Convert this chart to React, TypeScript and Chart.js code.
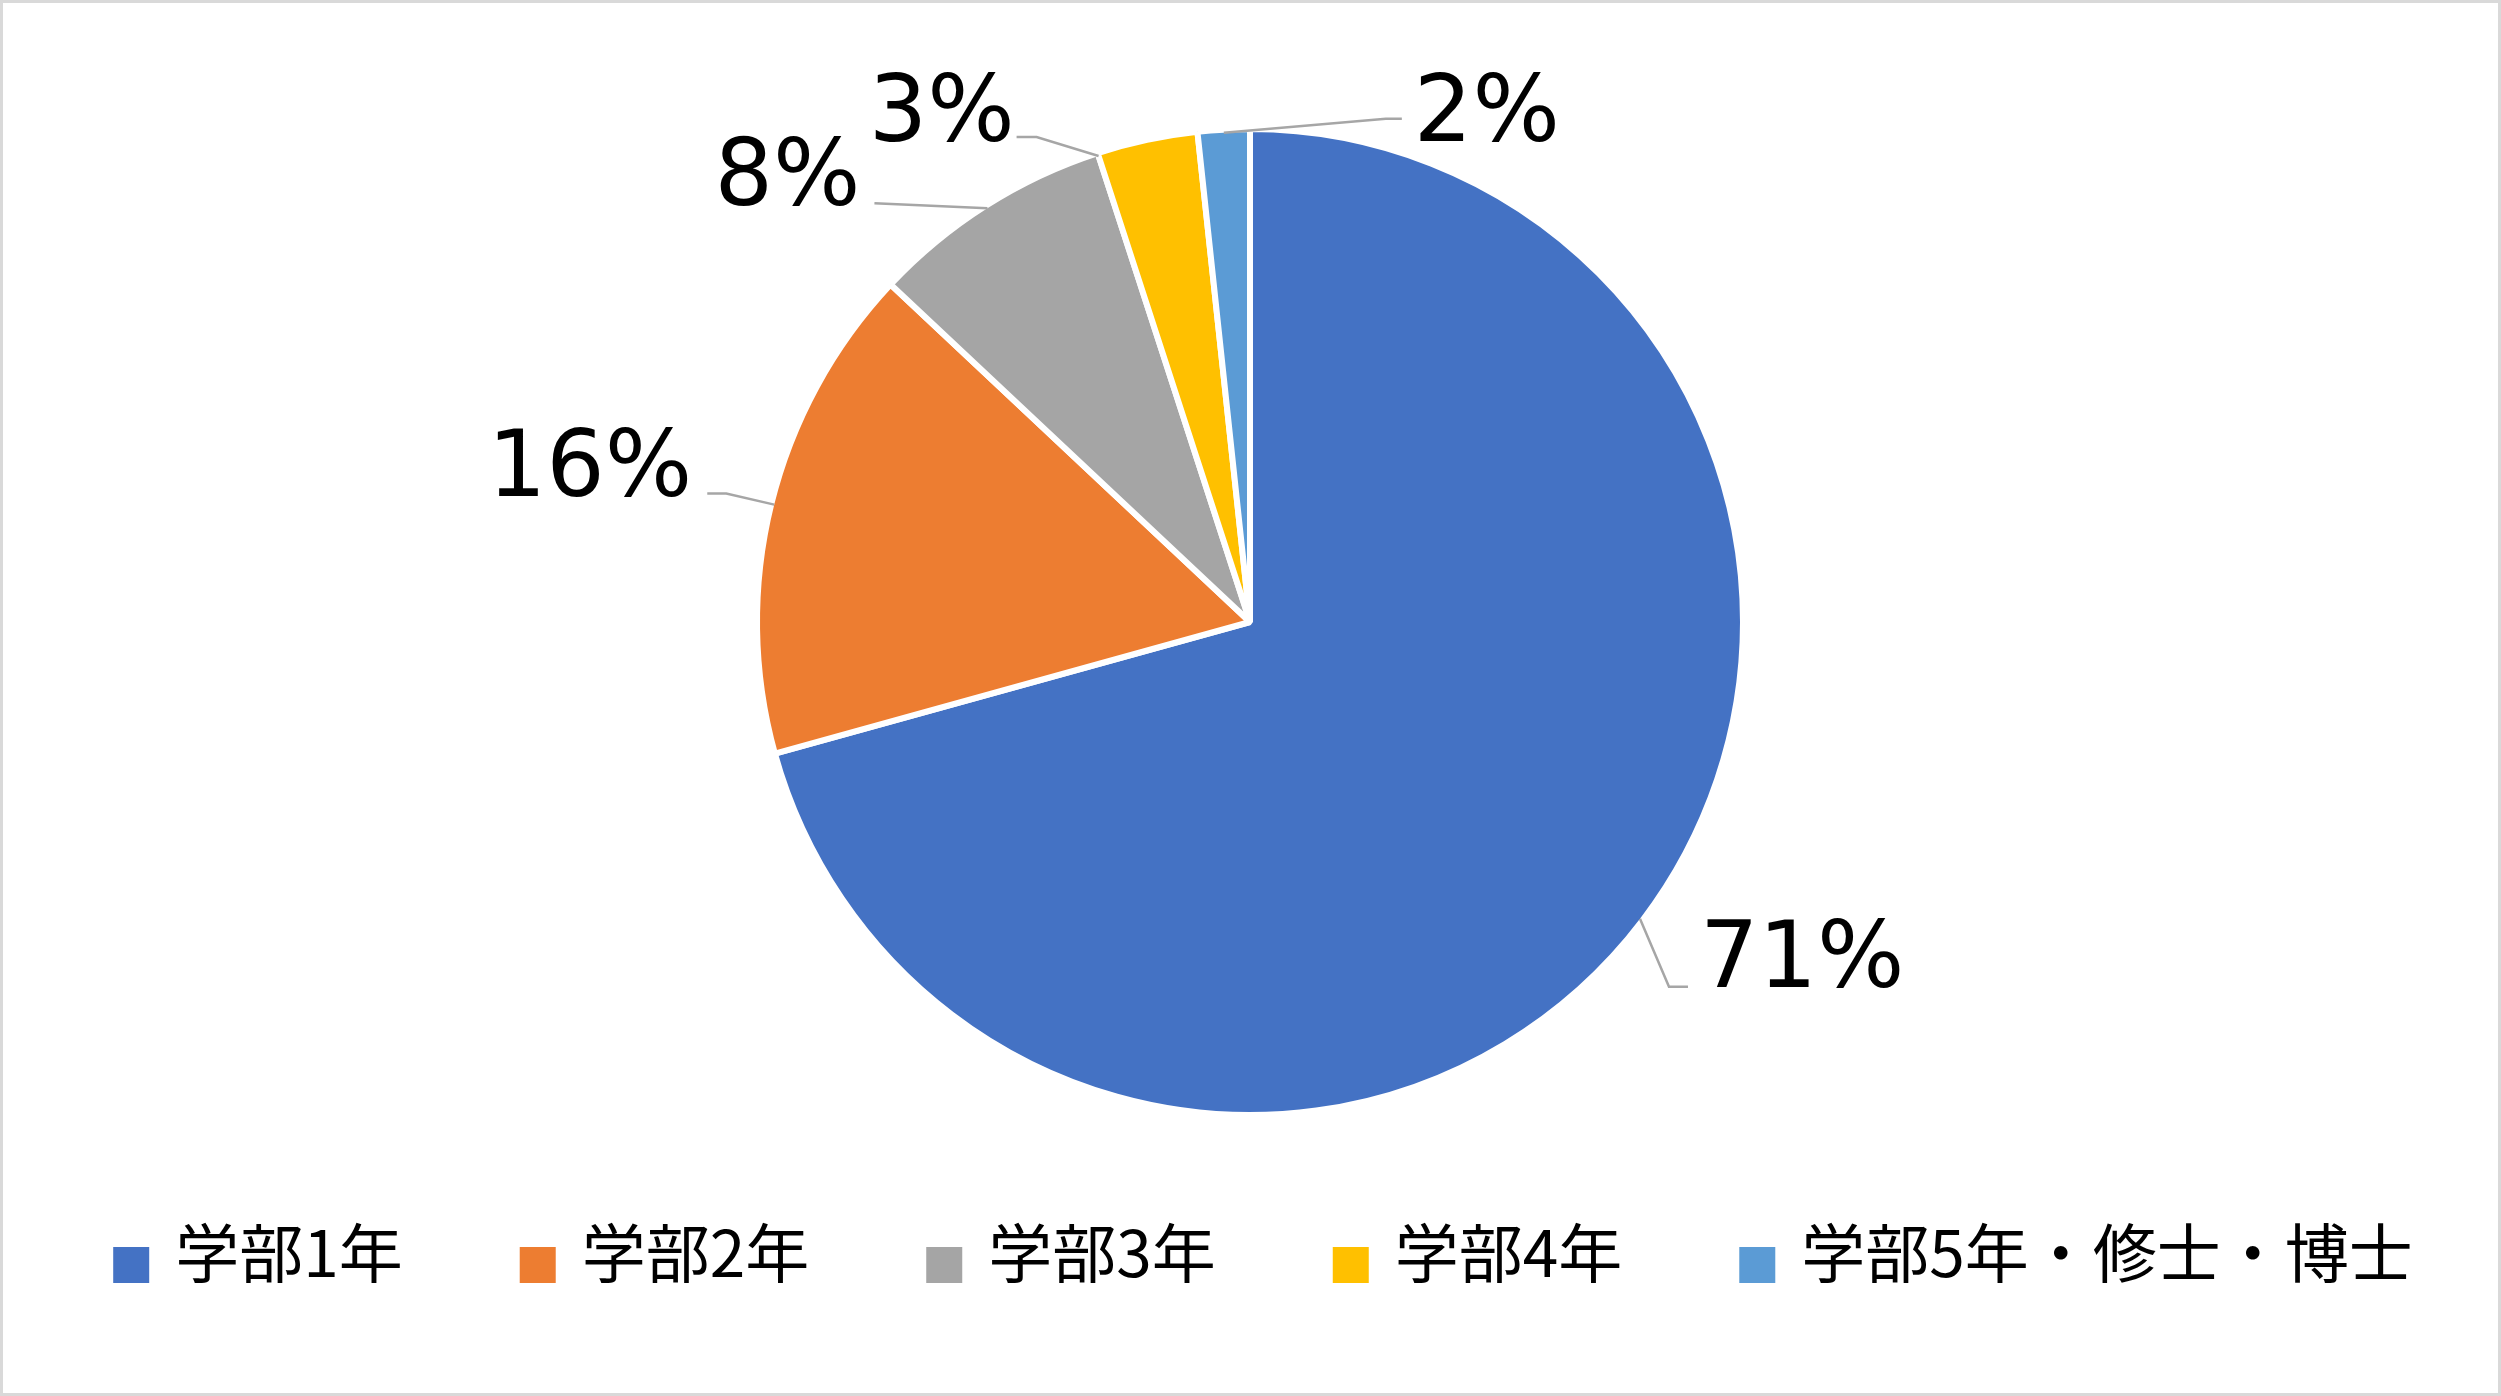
import React, { useEffect, useRef } from "react";
import { Chart, registerables } from "chart.js";

Chart.register(...registerables);

// data (share of respondents, %)
const categories = ["学部1年", "学部2年", "学部3年", "学部4年", "学部5年・修士・博士"];
const shares = [70.7, 16.3, 8.0, 3.3, 1.7];
const sliceColors = ["#4472C4", "#ED7D31", "#A5A5A5", "#FFC000", "#5B9BD5"];

// where each data label sits relative to its slice (Excel "best fit" look)
const leaderLayout = [
  { frac: 0.5, elbow: [29, 68], end: [48, 68], side: "right", gap: 12, baseDy: 0 },
  { frac: 0.5, elbow: [-48, -11], end: [-67, -11], side: "left", gap: 15, baseDy: 2 },
  { frac: 0.5, elbow: [-113, -5], end: [-113, -5], side: "left", gap: 14, baseDy: 2 },
  { frac: 0.0, elbow: [-62, -19], end: [-82, -19], side: "left", gap: 2, baseDy: 4 },
  { frac: 0.5, elbow: [162, -14], end: [178, -14], side: "right", gap: 12, baseDy: 22 },
];

const pctLabelsPlugin = {
  id: "pctLabels",
  afterDatasetsDraw(chart: any) {
    const { ctx } = chart;
    const meta = chart.getDatasetMeta(0);
    const values: number[] = chart.data.datasets[0].data;
    const total = values.reduce((a, b) => a + b, 0);
    const bw = chart.data.datasets[0].borderWidth || 0;
    ctx.save();
    ctx.font = '92px "DejaVu Sans", sans-serif';
    ctx.fillStyle = "#000";
    ctx.textBaseline = "alphabetic";
    meta.data.forEach((arc: any, i: number) => {
      const lay = leaderLayout[i];
      const { x, y, startAngle, endAngle, outerRadius } = arc.getProps(
        ["x", "y", "startAngle", "endAngle", "outerRadius"],
        true
      );
      const a = startAngle + lay.frac * (endAngle - startAngle);
      const r = outerRadius - bw / 2;
      const ax = x + Math.cos(a) * r;
      const ay = y + Math.sin(a) * r;
      const ex = ax + lay.end[0];
      const ey = ay + lay.end[1];
      ctx.strokeStyle = "#A6A6A6";
      ctx.lineWidth = 2.5;
      ctx.beginPath();
      ctx.moveTo(ax, ay);
      ctx.lineTo(ax + lay.elbow[0], ay + lay.elbow[1]);
      ctx.lineTo(ex, ey);
      ctx.stroke();
      const text = Math.round((values[i] / total) * 100) + "%";
      if (lay.side === "right") {
        ctx.textAlign = "left";
        ctx.fillText(text, ex + lay.gap, ey + lay.baseDy);
      } else {
        ctx.textAlign = "right";
        ctx.fillText(text, ex - lay.gap, ey + lay.baseDy);
      }
    });
    ctx.restore();
  },
};

const legendPlugin = {
  id: "bottomLegend",
  afterDraw(chart: any, _args: any, opts: any) {
    const { ctx, width, height } = chart;
    const labels: string[] = chart.data.labels;
    const colors: string[] = chart.data.datasets[0].backgroundColor;
    ctx.save();
    ctx.font = `${opts.fontSize}px ${opts.fontFamily}`;
    const widths = labels.map((t) => ctx.measureText(t).width);
    const itemW = widths.map((w) => opts.box + opts.textGap + w);
    const total = itemW.reduce((a, b) => a + b, 0) + opts.itemGap * (itemW.length - 1);
    let x = opts.centerX - total / 2;
    labels.forEach((t, i) => {
      ctx.fillStyle = colors[i];
      ctx.fillRect(x, opts.boxTop, opts.box, opts.box);
      ctx.fillStyle = "#000";
      ctx.textAlign = "left";
      ctx.textBaseline = "middle";
      ctx.fillText(t, x + opts.box + opts.textGap, opts.textMid);
      x += itemW[i] + opts.itemGap;
    });
    // outer frame of the chart
    ctx.strokeStyle = "#D9D9D9";
    ctx.lineWidth = 3;
    ctx.strokeRect(1.5, 1.5, width - 3, height - 3);
    ctx.restore();
  },
};

const App = () => {
  const chartRef = useRef<HTMLCanvasElement | null>(null);
  const chartInstance = useRef<any>(null);

  useEffect(() => {
    const config: any = {
      type: "pie",
      data: {
        labels: categories,
        datasets: [
          {
            data: shares,
            backgroundColor: sliceColors,
            borderColor: "#FFFFFF",
            borderWidth: 6,
            radius: 493,
          },
        ],
      },
      options: {
        animation: false,
        responsive: true,
        maintainAspectRatio: false,
        layout: { padding: { left: 0, right: 1, top: 0, bottom: 152 } },
        plugins: {
          legend: { display: false },
          tooltip: { enabled: false },
          bottomLegend: {
            fontSize: 64,
            fontFamily: '"Noto Sans CJK JP", sans-serif',
            box: 36,
            textGap: 26,
            itemGap: 117,
            centerX: 1263,
            boxTop: 1247,
            textMid: 1253,
          },
        },
      },
      plugins: [pctLabelsPlugin, legendPlugin],
    };

    if (chartInstance.current) {
      chartInstance.current.destroy();
    }
    if (chartRef.current) {
      chartInstance.current = new Chart(chartRef.current, config);
    }
    return () => {
      if (chartInstance.current) {
        chartInstance.current.destroy();
        chartInstance.current = null;
      }
    };
  }, []);

  return (
    <div
      style={{
        position: "fixed",
        left: 0,
        top: 0,
        width: 2501,
        height: 1396,
        background: "#FFFFFF",
      }}
    >
      <canvas ref={chartRef}></canvas>
    </div>
  );
};

export default App;
